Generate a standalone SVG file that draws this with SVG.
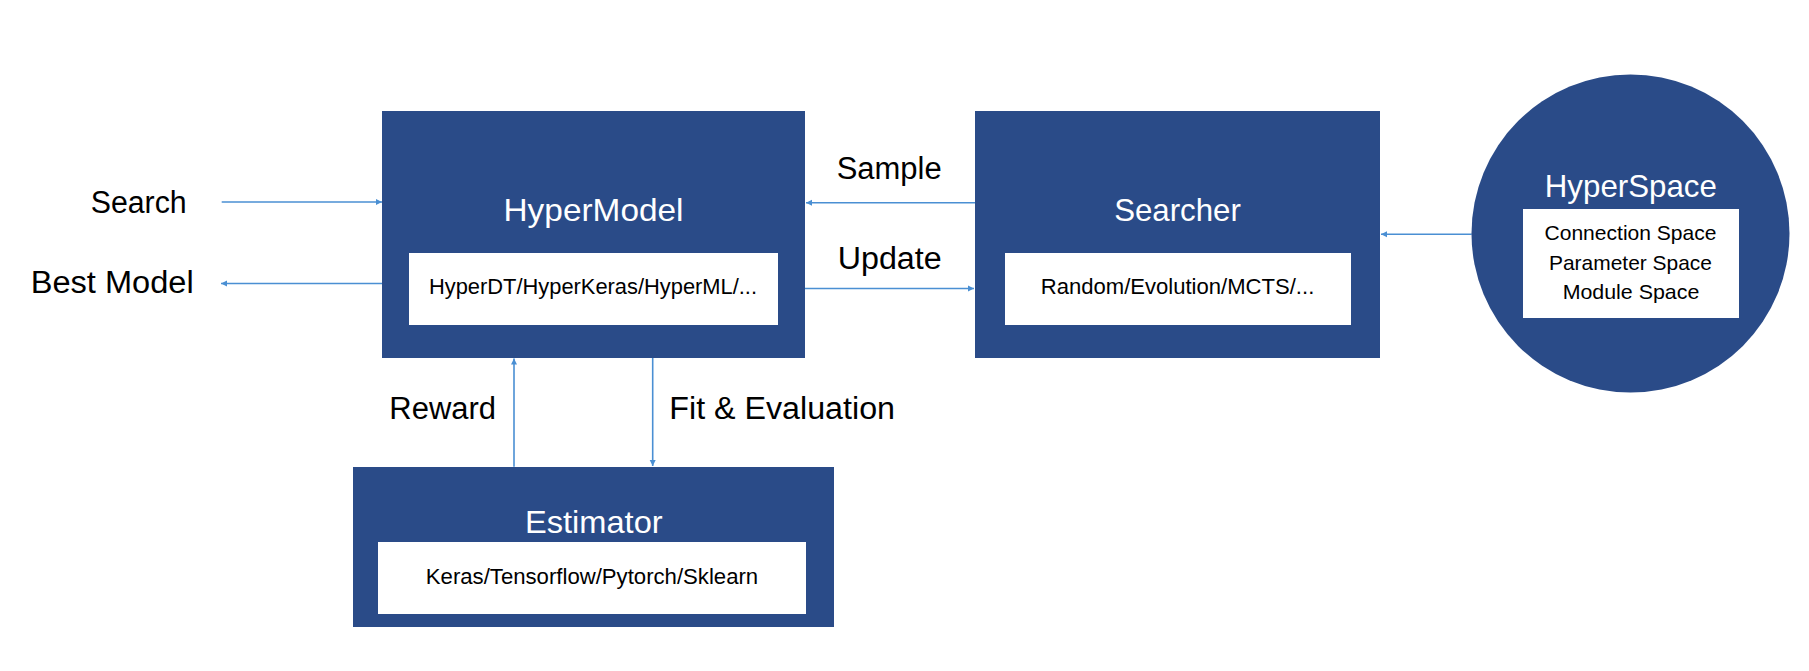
<svg xmlns="http://www.w3.org/2000/svg" width="1809" height="671" viewBox="0 0 1809 671">
<style>
.box{fill:#2A4B88}
.inner{fill:#FFFFFF}
.title{font-family:"Liberation Sans",Arial,sans-serif;font-size:32px;fill:#FFFFFF;text-anchor:middle}
.sub{font-family:"Liberation Sans",Arial,sans-serif;font-size:22px;fill:#000000;text-anchor:middle}
.space{font-family:"Liberation Sans",Arial,sans-serif;font-size:21px;fill:#000000;text-anchor:middle}
.label{font-family:"Liberation Sans",Arial,sans-serif;font-size:31px;fill:#000000}
.conn{stroke:#4A8FD3;stroke-width:1.6;fill:none;marker-end:url(#arrow)}
</style>
<defs>
<marker id="arrow" markerUnits="userSpaceOnUse" markerWidth="7" markerHeight="7" refX="6" refY="3.5" orient="auto">
<path d="M0,0.5 L6,3.5 L0,6.5 z" fill="#4A8FD3"/>
</marker>
</defs>
<rect width="1809" height="671" fill="#FFFFFF"/>
<g id="connectors">
<line class="conn" x1="221.7" y1="202" x2="382" y2="202"/>
<line class="conn" x1="382" y1="283.5" x2="221" y2="283.5"/>
<line class="conn" x1="975" y1="202.7" x2="806" y2="202.7"/>
<line class="conn" x1="805" y1="288.5" x2="974" y2="288.5"/>
<line class="conn" x1="1471.7" y1="234.3" x2="1381" y2="234.3"/>
<line class="conn" x1="514" y1="466.7" x2="514" y2="358.5"/>
<line class="conn" x1="652.7" y1="357.7" x2="652.7" y2="466"/>
</g>
<g id="labels">
<text class="label" x="90.7" y="212.7" textLength="96" lengthAdjust="spacingAndGlyphs">Search</text>
<text class="label" x="30.7" y="292.7" textLength="163" lengthAdjust="spacingAndGlyphs">Best Model</text>
<text class="label" x="836.7" y="179.3" textLength="105" lengthAdjust="spacingAndGlyphs">Sample</text>
<text class="label" x="837.7" y="269.3" textLength="104" lengthAdjust="spacingAndGlyphs">Update</text>
<text class="label" x="389.3" y="419.3" textLength="106.7" lengthAdjust="spacingAndGlyphs">Reward</text>
<text class="label" x="669.3" y="419" textLength="225.7" lengthAdjust="spacingAndGlyphs">Fit &amp; Evaluation</text>
</g>
<g id="hypermodel">
<rect class="box" x="382" y="111" width="423" height="247"/>
<text class="title" x="593.5" y="220.7" textLength="180" lengthAdjust="spacingAndGlyphs">HyperModel</text>
<rect class="inner" x="409" y="253" width="369" height="72"/>
<text class="sub" x="593" y="294.3" textLength="328" lengthAdjust="spacingAndGlyphs">HyperDT/HyperKeras/HyperML/...</text>
</g>
<g id="searcher">
<rect class="box" x="975" y="111" width="405" height="247"/>
<text class="title" x="1177.5" y="220.7" textLength="126.7" lengthAdjust="spacingAndGlyphs">Searcher</text>
<rect class="inner" x="1005" y="253" width="346" height="72"/>
<text class="sub" x="1177.5" y="294.3" textLength="273.6" lengthAdjust="spacingAndGlyphs">Random/Evolution/MCTS/...</text>
</g>
<g id="hyperspace">
<circle class="box" cx="1630.5" cy="233.5" r="159"/>
<text class="title" x="1630.8" y="197.3" textLength="172" lengthAdjust="spacingAndGlyphs">HyperSpace</text>
<rect class="inner" x="1523" y="209" width="216" height="109"/>
<text class="space" x="1630.5" y="240" textLength="172" lengthAdjust="spacingAndGlyphs">Connection Space</text>
<text class="space" x="1630.5" y="270" textLength="163" lengthAdjust="spacingAndGlyphs">Parameter Space</text>
<text class="space" x="1631" y="299.3" textLength="136.7" lengthAdjust="spacingAndGlyphs">Module Space</text>
</g>
<g id="estimator">
<rect class="box" x="353" y="467" width="481" height="160"/>
<text class="title" x="593.8" y="533.3" textLength="137.7" lengthAdjust="spacingAndGlyphs">Estimator</text>
<rect class="inner" x="378" y="542" width="428" height="72"/>
<text class="sub" x="592" y="584.3" textLength="332.3" lengthAdjust="spacingAndGlyphs">Keras/Tensorflow/Pytorch/Sklearn</text>
</g>
</svg>
